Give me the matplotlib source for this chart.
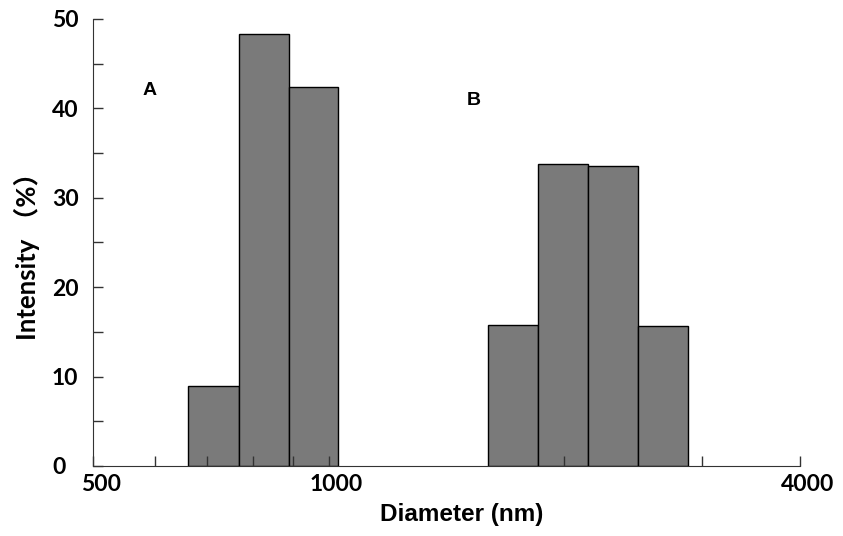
import matplotlib.pyplot as plt
import numpy as np
from matplotlib.ticker import FixedLocator, NullFormatter
from matplotlib.transforms import ScaledTranslation

# bin edges (nm), log spaced bins
a_edges = [661, 768, 890, 1028]
a_heights = [9.0, 48.3, 42.4]
b_edges = [1598, 1851, 2145, 2484, 2877]
b_heights = [15.8, 33.8, 33.5, 15.7]

major_ticks = [500, 1000, 4000]
minor_ticks = [600, 700, 800, 900, 2000, 3000]

fam = ['Lato', 'Noto Sans CJK SC', 'DejaVu Sans']
plt.rcParams['font.family'] = fam
plt.rcParams['font.weight'] = 'bold'

fig = plt.figure(figsize=(8.43, 5.36), dpi=100)
ax = fig.add_axes([0.1103, 0.1306, 0.949 - 0.1103, 0.9646 - 0.1306])

for edges, heights in [(a_edges, a_heights), (b_edges, b_heights)]:
    e = np.array(edges)
    ax.bar(e[:-1], heights, width=np.diff(e), align='edge',
           color='#7a7a7a', edgecolor='black', linewidth=1.0)

ax.set_xscale('log')
ax.set_xlim(500, 4000)
ax.set_ylim(0, 50)
ax.xaxis.set_major_locator(FixedLocator(major_ticks))
ax.xaxis.set_minor_locator(FixedLocator(minor_ticks))
ax.xaxis.set_major_formatter(plt.FuncFormatter(lambda v, p: '%d' % v))
ax.xaxis.set_minor_formatter(NullFormatter())
ax.set_yticks([0, 10, 20, 30, 40, 50])
ax.set_yticks([5, 15, 25, 35, 45], minor=True)

ax.tick_params(axis='both', which='both', direction='in', length=7.5,
               width=1.0, color='#333333', labelsize=16.5)
ax.tick_params(axis='x', which='major', pad=6)
ax.tick_params(axis='y', which='major', pad=29.5)

shift = ScaledTranslation(0.08, 0, fig.dpi_scale_trans)
for lab in ax.get_xticklabels():
    lab.set_transform(lab.get_transform() + shift)
    lab.set_fontweight('bold')
for lab in ax.get_yticklabels():
    lab.set_fontweight('bold')
    lab.set_horizontalalignment('left')

ax.spines['top'].set_visible(False)
ax.spines['right'].set_visible(False)
ax.spines['left'].set_color('#333333')
ax.spines['bottom'].set_color('#333333')

ax.set_xlabel('Diameter (nm)', fontsize=17.5, fontweight='bold',
              family=['Liberation Sans', 'DejaVu Sans'], va='center')
ax.xaxis.set_label_coords(0.522, -0.1096)
ax.set_ylabel('Intensity （%）', fontsize=18.5, fontweight='bold',
              family=fam, va='center')
ax.yaxis.set_label_coords(-0.0934, 0.483)

ax.text(590, 42.0, 'A', fontsize=14, fontweight='bold', ha='center', va='center',
        family=['Liberation Sans', 'DejaVu Sans'])
ax.text(1534, 40.9, 'B', fontsize=14, fontweight='bold', ha='center', va='center',
        family=['Liberation Sans', 'DejaVu Sans'])

fig.savefig('out.png', dpi=100)
